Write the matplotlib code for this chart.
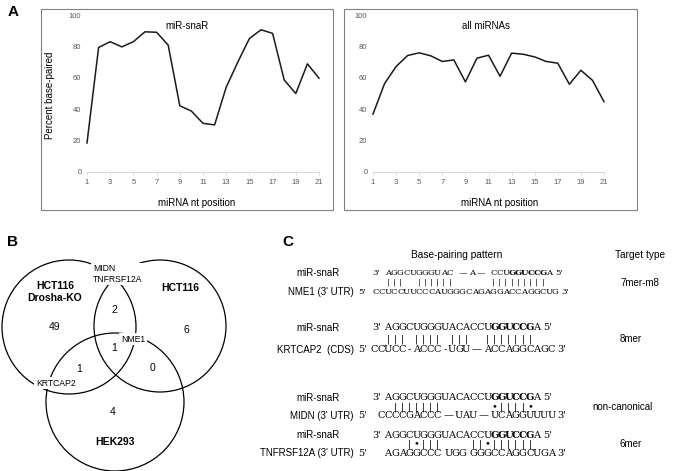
import matplotlib
matplotlib.use("Agg")
import matplotlib.pyplot as plt
from matplotlib.patches import Circle, Rectangle
import numpy as np

plt.rcParams['font.family'] = ['Liberation Sans', 'DejaVu Sans']

W, H = 675, 471
seq_font = 'DejaVu Serif'

# ---- panel A data
nt_pos = np.arange(1, 22)
snar_pct = [18.5, 79.3, 83, 79.7, 83, 89.3, 89, 80.8, 42.2, 38.8, 31,
            30, 54, 70, 85, 90.6, 88.3, 58.6, 50, 68.9, 59.7]
all_pct = [36.9, 56.3, 67.2, 74.2, 75.9, 74, 70.4, 71.4, 57.4, 72.5, 74.4,
           61, 75.7, 75, 73.3, 70.4, 69.3, 55.9, 64.8, 58.4, 44.8]

# ---- panel B data
venn_sets = ["HCT116\nDrosha-KO", "HCT116", "HEK293"]
venn_counts = {"KO": 49, "HCT": 6, "HEK": 4, "KO_HCT": 2,
               "KO_HEK": 1, "HCT_HEK": 0, "ALL": 1}
venn_genes = {"KO_HCT": "MIDN\nTNFRSF12A", "KO_HEK": "KRTCAP2", "ALL": "NME1"}

# ---- panel C data (lowercase = bold seed letters)
targets = ["NME1 (3' UTR)", "KRTCAP2  (CDS)", "MIDN (3' UTR)", "TNFRSF12A (3' UTR)"]
target_types = ["7mer-m8", "8mer", "non-canonical", "6mer"]
mirna_rows = [
    [(2, "AGGCUGGGUAC"), (14, "—"), (15.5, "A"), (17, "—"), (19, "CCUgguccgA")],
    [(2, "AGGCUGGGUACACCUgguccgA")],
    [(1, "AGGCUGGGUACACCUgguccgA")],
    [(0, "AGGCUGGGUACACCUgguccgA")],
]
pair_rows = [
    [(2, "|||"), (7, "||||||"), (19, "|||||||||")],
    [(2, "||| |||| |||"), (16, "|||||||")],
    [(2, "|||||||"), (16, "•||||•")],
    [(3, "|•|||"), (12, "||•||||||")],
]
target_rows = [
    [(0, "CCUCCUUCCCAUGGGCAGAGGACCAGGCUG")],
    [(0, "CCUCC-ACCC-UGU"), (14.5, "—"), (16, "ACCAGGCAGC")],
    [(0, "CCCCGACCC"), (9.5, "—"), (11, "UAU"), (14.5, "—"), (16, "UCAGGUUUU")],
    [(0, "AGAGGCCC"), (8.5, "UGG"), (12, "GGGCCAGGCUGA")],
]

fig = plt.figure(figsize=(6.75, 4.71), dpi=100)
canvas = fig.add_axes([0, 0, 1, 1])
canvas.set_xlim(0, W)
canvas.set_ylim(H, 0)
canvas.axis('off')


def px_axes(x0, y0, x1, y1):
    return fig.add_axes([x0 / W, 1 - y1 / H, (x1 - x0) / W, (y1 - y0) / H])


# ---------------- panel A
canvas.text(13, 12, "A", ha='center', va='center', fontsize=11, fontweight='bold')
charts = [
    (snar_pct, "miR-snaR", (41, 333), (87, 319), 0.431, 0.474),
    (all_pct, "all miRNAs", (344, 637), (373, 604), 0.489, 0.55),
]
for i, (vals, title, box, ax_x, tx, lx) in enumerate(charts):
    canvas.add_patch(Rectangle((box[0], 9), box[1] - box[0], 201, fill=False,
                               ec='#808080', lw=0.8))
    ax = px_axes(ax_x[0], 15, ax_x[1], 172)
    ax.patch.set_alpha(0)
    ax.plot(nt_pos, vals, color='#1a1a1a', lw=1.1, clip_on=False)
    ax.set_xlim(1, 21)
    ax.set_ylim(0, 100)
    for s in ['top', 'right', 'left']:
        ax.spines[s].set_visible(False)
    ax.spines['bottom'].set_color('#d0d0d0')
    ax.spines['bottom'].set_linewidth(0.6)
    ax.set_xticks(np.arange(1, 22, 2))
    ax.set_yticks(np.arange(0, 101, 20))
    ax.tick_params(axis='x', length=2, width=0.5, color='#d0d0d0', pad=3,
                   labelsize=5.5, labelcolor='#595959')
    ax.tick_params(axis='y', length=0, pad=4, labelsize=5.5, labelcolor='#595959')
    ax.text(tx, 0.93, title, transform=ax.transAxes, ha='center', va='center', fontsize=7)
    ax.set_xlabel("miRNA nt position", fontsize=7)
    ax.xaxis.set_label_coords(lx, -0.166)
    if i == 0:
        ax.set_ylabel("Percent base-paired", fontsize=7)
        ax.yaxis.set_label_coords(-0.138, 0.49)

# ---------------- panel B
canvas.text(12, 242, "B", ha='center', va='center', fontsize=11, fontweight='bold')
circles = [((69, 327), 67), ((160, 326), 66), ((115, 402), 69)]
for (c, r) in circles:
    canvas.add_patch(Circle(c, r, fill=False, ec='black', lw=0.9, zorder=1))

set_label_pos = [(55, 292), (180, 288), (115, 442)]
for name, (x, y) in zip(venn_sets, set_label_pos):
    canvas.text(x, y, name, ha='center', va='center', fontsize=7.5,
                fontweight='bold', linespacing=1.25)

count_pos = {"KO": (55, 327), "HCT": (186, 330), "HEK": (113, 412),
             "KO_HCT": (114, 310), "KO_HEK": (79, 369), "HCT_HEK": (152, 368),
             "ALL": (114, 348)}
for k, (x, y) in count_pos.items():
    canvas.text(x, y, str(venn_counts[k]), ha='center', va='center', fontsize=7.5)

gene_pos = {"KO_HCT": (93, 274, 'left'), "KO_HEK": (56, 383, 'center'),
            "ALL": (133, 339, 'center')}
for k, (x, y, ha) in gene_pos.items():
    canvas.text(x, y, venn_genes[k], ha=ha, va='center', fontsize=6.2,
                linespacing=1.2, zorder=3,
                bbox=dict(fc='white', ec='none', pad=1.2))

# ---------------- panel C
canvas.text(288, 242, "C", ha='center', va='center', fontsize=11, fontweight='bold')
canvas.text(457, 255, "Base-pairing pattern", ha='center', va='center', fontsize=7.3)
canvas.text(615, 255, "Target type", ha='left', va='center', fontsize=7.3)

row_y = [(273, 283, 292), (328, 339, 350), (398, 407, 416), (435, 444, 453)]
row_pitch = [6.2, 7.1, 7.1, 7.1]
row_size = [6.1, 7.1, 7.1, 7.1]
type_x = [620, 620, 592, 620]
first_top_x = 388


def draw_segments(segs, x0, pitch, y, size):
    last = 0
    for start, seq in segs:
        for k, ch in enumerate(seq):
            if ch == ' ':
                continue
            cell = start + k
            last = max(last, cell)
            canvas.text(x0 + cell * pitch, y, ch.upper(), ha='center', va='center',
                        family=seq_font, fontsize=size,
                        fontweight='bold' if ch.islower() else 'normal')
    return last


for i in range(4):
    yt, yb, yl = row_y[i]
    p = row_pitch[i]
    fs = row_size[i]
    x0 = first_top_x - mirna_rows[i][0][0] * p
    canvas.text(318, yt, "miR-snaR", ha='center', va='center', fontsize=7)
    canvas.text(354, yl, targets[i], ha='right', va='center', fontsize=7)
    canvas.text(type_x[i], yb, target_types[i], ha='left', va='center', fontsize=7)

    canvas.text(372, yt, "3'", ha='left', va='center', family=seq_font, fontsize=fs)
    last = draw_segments(mirna_rows[i], x0, p, yt, fs)
    canvas.text(x0 + last * p + p / 2 + 2.5, yt, "5'", ha='left', va='center',
                family=seq_font, fontsize=fs)

    draw_segments(pair_rows[i], x0, p, yb, fs)

    canvas.text(358, yl, "5'", ha='left', va='center', family=seq_font, fontsize=fs)
    last = draw_segments(target_rows[i], x0, p, yl, fs)
    canvas.text(x0 + last * p + p / 2 + 2.5, yl, "3'", ha='left', va='center',
                family=seq_font, fontsize=fs)

fig.savefig("out.png", dpi=100)
